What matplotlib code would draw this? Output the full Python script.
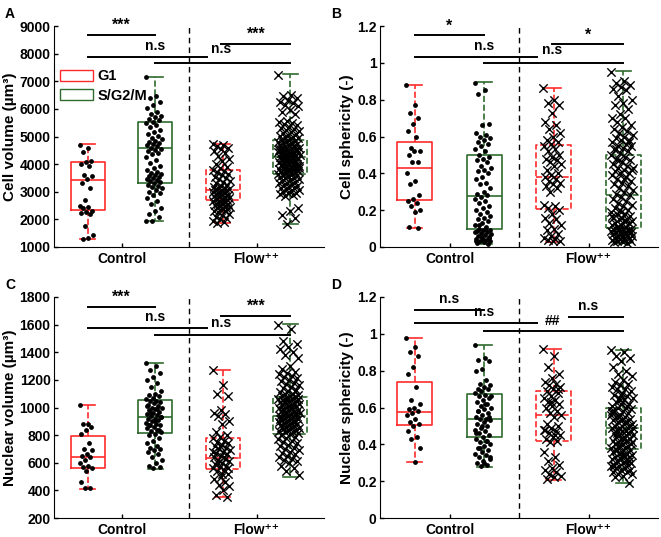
import numpy as np
import matplotlib
matplotlib.use("Agg")
import matplotlib.pyplot as plt
from matplotlib.patches import Patch

plt.rcParams["font.family"] = ["Liberation Sans", "DejaVu Sans"]
plt.rcParams["font.weight"] = "bold"

RED = "#ff2b2b"
GREEN = "#2f6b2f"

groups = ["Control", "Flow\u207a\u207a"]
legend_labels = ["G1", "S/G2/M"]
panel_letters = ["A", "B", "C", "D"]
y_labels = ["Cell volume (\u00b5m\u00b3)", "Cell sphericity (-)",
            "Nuclear volume (\u00b5m\u00b3)", "Nuclear sphericity (-)"]

# box stats per panel: [ctl G1, ctl S, flow G1, flow S] -> (whislo, q1, med, q3, whishi)
a_boxes = [(1290, 2350, 3440, 4060, 4720), (1940, 3310, 4590, 5520, 7160),
           (1870, 2690, 3080, 3770, 4720), (1820, 3630, 4260, 4890, 7260)]
b_boxes = [(0.105, 0.256, 0.431, 0.569, 0.881), (0.015, 0.100, 0.276, 0.497, 0.894),
           (0.029, 0.208, 0.381, 0.556, 0.865), (0.022, 0.105, 0.283, 0.497, 0.953)]
c_boxes = [(410, 565, 645, 791, 1021), (558, 812, 929, 1057, 1321),
           (350, 556, 638, 778, 1272), (498, 805, 938, 1074, 1602)]
d_boxes = [(0.303, 0.503, 0.577, 0.741, 0.977), (0.278, 0.441, 0.537, 0.675, 0.942),
           (0.207, 0.419, 0.557, 0.688, 0.920), (0.192, 0.374, 0.490, 0.597, 0.911)]

# scatter values
a_ctl_g1 = [4700, 4600, 4450, 4100, 4060, 4000, 3950, 3620, 3560, 3450, 3300, 3150,
            2700, 2500, 2460, 2400, 2320, 2260, 2220, 2200, 1750, 1420, 1320, 1290]
a_ctl_s = [7150, 6480, 6400, 6250, 6150, 6020, 5900, 5820, 5760, 5700, 5650, 5600,
           5540, 5480, 5420, 5350, 5250, 5150, 5080, 5020, 4960, 4900, 4850, 4800,
           4760, 4720, 4680, 4640, 4600, 4560, 4520, 4480, 4420, 4350, 4250, 4150,
           4050, 3950, 3860, 3780, 3720, 3680, 3640, 3600, 3560, 3520, 3480, 3450,
           3420, 3380, 3340, 3300, 3260, 3220, 3180, 3120, 3060, 3000, 2950, 2880,
           2780, 2680, 2550, 2420, 2300, 2200, 2100, 1950, 1940]
a_flw_g1 = [4720, 4680, 4650, 4600, 4550, 4480, 4400, 4300, 4200, 4100, 4000, 3900,
            3850, 3800, 3750, 3700, 3650, 3600, 3550, 3500, 3450, 3400, 3350, 3300,
            3250, 3200, 3180, 3150, 3120, 3100, 3080, 3050, 3020, 3000, 2980, 2950,
            2920, 2900, 2870, 2850, 2820, 2800, 2770, 2750, 2720, 2700, 2680, 2650,
            2620, 2600, 2570, 2550, 2520, 2500, 2480, 2450, 2420, 2400, 2370, 2350,
            2320, 2300, 2250, 2200, 2150, 2100, 2050, 2000, 1950, 1900, 1880]
a_flw_s = [7220, 6500, 6460, 6400, 6330, 6250, 6200, 6150, 6100, 5950, 5900, 5800,
           5550, 5520, 5480, 5450, 5400, 5360, 5320, 5280, 5250, 5200, 5170, 5130,
           5100, 5060, 5020, 5000, 4970, 4940, 4910, 4880, 4850, 4820, 4800, 4780,
           4750, 4720, 4700, 4680, 4650, 4630, 4600, 4580, 4560, 4540, 4520, 4500,
           4480, 4460, 4440, 4420, 4400, 4380, 4360, 4340, 4320, 4300, 4280, 4260,
           4240, 4220, 4200, 4180, 4160, 4140, 4120, 4100, 4080, 4060, 4040, 4020,
           4000, 3980, 3960, 3940, 3920, 3900, 3880, 3860, 3840, 3820, 3800, 3780,
           3760, 3740, 3720, 3700, 3680, 3660, 3640, 3620, 3600, 3570, 3540, 3510,
           3480, 3450, 3420, 3390, 3360, 3330, 3300, 3270, 3240, 3210, 3180, 3150,
           3120, 3090, 3060, 3030, 3000, 2970, 2940, 2910, 2880, 2850, 2400, 2300,
           2150, 2050, 1820, 4450, 4350, 4150, 3950, 3750, 4550, 4650, 4250, 3850]

b_ctl_g1 = [0.88, 0.77, 0.73, 0.70, 0.67, 0.63, 0.60, 0.54, 0.52, 0.52, 0.50, 0.46,
            0.46, 0.40, 0.36, 0.34, 0.28, 0.26, 0.25, 0.24, 0.22, 0.20, 0.19, 0.11, 0.105]
b_ctl_s = [0.89, 0.85, 0.83, 0.67, 0.66, 0.62, 0.61, 0.60, 0.59, 0.58, 0.57, 0.56,
           0.55, 0.53, 0.52, 0.50, 0.49, 0.48, 0.47, 0.46, 0.44, 0.43, 0.42, 0.41,
           0.40, 0.38, 0.37, 0.35, 0.34, 0.32, 0.30, 0.29, 0.28, 0.27, 0.26, 0.25,
           0.24, 0.22, 0.21, 0.20, 0.19, 0.18, 0.17, 0.16, 0.15, 0.14, 0.13, 0.12,
           0.11, 0.10, 0.095, 0.09, 0.085, 0.08, 0.075, 0.07, 0.065, 0.06, 0.055, 0.05,
           0.045, 0.04, 0.035, 0.03, 0.025, 0.02, 0.015, 0.06, 0.08, 0.10, 0.12, 0.05,
           0.04, 0.03]
b_flw_g1 = [0.865, 0.80, 0.78, 0.77, 0.73, 0.68, 0.66, 0.64, 0.62, 0.60, 0.58, 0.57,
            0.56, 0.55, 0.53, 0.52, 0.50, 0.49, 0.48, 0.47, 0.46, 0.45, 0.44, 0.42,
            0.40, 0.39, 0.38, 0.37, 0.36, 0.35, 0.34, 0.33, 0.32, 0.30, 0.23, 0.22,
            0.21, 0.20, 0.18, 0.16, 0.15, 0.13, 0.12, 0.10, 0.09, 0.07, 0.06, 0.05,
            0.045, 0.04, 0.035, 0.03]
b_flw_s = [0.95, 0.90, 0.89, 0.88, 0.87, 0.86, 0.85, 0.82, 0.80, 0.78, 0.77, 0.75,
           0.72, 0.70, 0.70, 0.68, 0.66, 0.65, 0.64, 0.63, 0.62, 0.61, 0.60, 0.59,
           0.58, 0.58, 0.57, 0.56, 0.55, 0.55, 0.54, 0.53, 0.52, 0.51, 0.50, 0.49,
           0.48, 0.47, 0.46, 0.45, 0.44, 0.43, 0.42, 0.42, 0.41, 0.40, 0.40, 0.39,
           0.38, 0.37, 0.36, 0.35, 0.34, 0.33, 0.32, 0.31, 0.30, 0.29, 0.28, 0.27,
           0.26, 0.25, 0.24, 0.23, 0.22, 0.21, 0.20, 0.20, 0.19, 0.18, 0.18, 0.17,
           0.16, 0.16, 0.15, 0.15, 0.14, 0.14, 0.13, 0.13, 0.12, 0.12, 0.11, 0.11,
           0.10, 0.10, 0.095, 0.09, 0.09, 0.085, 0.08, 0.08, 0.075, 0.07, 0.07, 0.065,
           0.06, 0.06, 0.055, 0.05, 0.05, 0.045, 0.04, 0.04, 0.035, 0.03, 0.03, 0.025,
           0.022, 0.47, 0.43, 0.37, 0.53, 0.57, 0.19, 0.17, 0.14, 0.11, 0.08, 0.06]

c_ctl_g1 = [1020, 880, 880, 860, 840, 810, 740, 700, 690, 660, 650, 640, 620, 600,
            580, 570, 560, 540, 460, 420, 415]
c_ctl_s = [1320, 1300, 1270, 1250, 1220, 1200, 1180, 1150, 1120, 1100, 1090, 1080,
           1070, 1060, 1050, 1045, 1040, 1030, 1020, 1010, 1000, 995, 990, 980, 970,
           960, 950, 945, 940, 930, 920, 915, 910, 900, 890, 880, 875, 870, 860, 850,
           840, 830, 820, 810, 800, 780, 760, 740, 720, 710, 700, 690, 680, 660, 640,
           620, 600, 580, 570, 560, 1010, 990, 960, 930, 900, 870, 840]
c_flw_g1 = [1270, 1160, 1100, 1080, 980, 960, 950, 940, 900, 880, 820, 800, 790, 780,
            760, 750, 740, 730, 720, 710, 700, 690, 680, 670, 660, 650, 640, 630, 620,
            610, 600, 590, 580, 570, 560, 550, 540, 520, 500, 480, 460, 440, 430, 400,
            370, 355, 720, 680, 640, 600, 560, 520]
c_flw_s = [1600, 1570, 1480, 1460, 1440, 1420, 1400, 1380, 1360, 1300, 1280, 1260,
           1250, 1240, 1230, 1220, 1210, 1200, 1190, 1180, 1170, 1160, 1150, 1140,
           1130, 1120, 1110, 1100, 1095, 1090, 1085, 1080, 1075, 1070, 1065, 1060,
           1055, 1050, 1045, 1040, 1035, 1030, 1025, 1020, 1015, 1010, 1005, 1000,
           995, 990, 985, 980, 975, 970, 965, 960, 955, 950, 945, 940, 935, 930, 925,
           920, 915, 910, 905, 900, 895, 890, 885, 880, 875, 870, 865, 860, 855, 850,
           845, 840, 835, 830, 825, 820, 815, 810, 800, 790, 780, 770, 760, 750, 740,
           730, 720, 710, 700, 690, 680, 670, 660, 650, 640, 630, 620, 610, 600, 580,
           560, 540, 510, 1000, 980, 960, 940, 920, 900, 1040, 1060, 880, 860, 1120]

d_ctl_g1 = [0.975, 0.93, 0.90, 0.88, 0.82, 0.78, 0.71, 0.64, 0.62, 0.60, 0.59, 0.58,
            0.57, 0.56, 0.54, 0.52, 0.51, 0.50, 0.47, 0.44, 0.43, 0.38, 0.305]
d_ctl_s = [0.94, 0.87, 0.86, 0.85, 0.81, 0.80, 0.75, 0.73, 0.72, 0.71, 0.70, 0.70,
           0.69, 0.68, 0.67, 0.66, 0.65, 0.64, 0.63, 0.62, 0.61, 0.60, 0.59, 0.58,
           0.57, 0.56, 0.55, 0.54, 0.54, 0.53, 0.52, 0.51, 0.50, 0.49, 0.48, 0.47,
           0.46, 0.45, 0.44, 0.43, 0.42, 0.41, 0.40, 0.39, 0.38, 0.37, 0.36, 0.35,
           0.34, 0.33, 0.32, 0.31, 0.30, 0.29, 0.28, 0.66, 0.62, 0.58, 0.55, 0.50,
           0.46, 0.42, 0.38, 0.33, 0.30]
d_flw_g1 = [0.92, 0.88, 0.82, 0.78, 0.76, 0.74, 0.73, 0.72, 0.71, 0.70, 0.69, 0.68,
            0.66, 0.65, 0.64, 0.63, 0.62, 0.61, 0.60, 0.58, 0.57, 0.56, 0.55, 0.51,
            0.50, 0.49, 0.48, 0.47, 0.46, 0.45, 0.44, 0.43, 0.42, 0.41, 0.36, 0.33,
            0.31, 0.29, 0.27, 0.26, 0.25, 0.24, 0.23, 0.22, 0.21, 0.70, 0.63, 0.48, 0.45]
d_flw_s = [0.91, 0.90, 0.88, 0.87, 0.85, 0.82, 0.80, 0.78, 0.77, 0.75, 0.74, 0.73,
           0.72, 0.71, 0.70, 0.70, 0.69, 0.68, 0.67, 0.66, 0.65, 0.65, 0.64, 0.63,
           0.62, 0.62, 0.61, 0.60, 0.60, 0.59, 0.58, 0.58, 0.57, 0.56, 0.56, 0.55,
           0.55, 0.54, 0.53, 0.53, 0.52, 0.52, 0.51, 0.51, 0.50, 0.50, 0.49, 0.49,
           0.48, 0.48, 0.47, 0.47, 0.46, 0.46, 0.45, 0.45, 0.44, 0.44, 0.43, 0.43,
           0.42, 0.42, 0.41, 0.41, 0.40, 0.40, 0.39, 0.39, 0.38, 0.38, 0.37, 0.37,
           0.36, 0.36, 0.35, 0.35, 0.34, 0.34, 0.33, 0.33, 0.32, 0.32, 0.31, 0.31,
           0.30, 0.30, 0.29, 0.29, 0.28, 0.28, 0.27, 0.27, 0.26, 0.26, 0.25, 0.25,
           0.24, 0.24, 0.23, 0.22, 0.19, 0.64, 0.58, 0.52, 0.46, 0.40, 0.34, 0.28,
           0.61, 0.55, 0.49, 0.43, 0.37, 0.31, 0.67, 0.57, 0.47, 0.39]

# significance bars: (x0, x1, y, label, label_x, label_y)
a_sig = [(0.75, 1.25, 8660, "***", 1.0, 8760), (0.75, 1.63, 7890, "n.s", 1.25, 8030),
         (1.25, 2.25, 7650, "n.s", 1.74, 7900), (1.74, 2.25, 8340, "***", 2.0, 8440)]
b_sig = [(0.75, 1.25, 1.150, "*", 1.0, 1.160), (0.75, 1.63, 1.033, "n.s", 1.25, 1.055),
         (1.25, 2.25, 0.997, "n.s", 1.74, 1.029), (1.74, 2.25, 1.100, "*", 2.0, 1.110)]
c_sig = [(0.75, 1.25, 1725, "***", 1.0, 1745), (0.75, 1.63, 1573, "n.s", 1.25, 1602),
         (1.25, 2.25, 1523, "n.s", 1.74, 1563), (1.74, 2.25, 1662, "***", 2.0, 1682)]
d_sig = [(0.75, 1.25, 1.129, "n.s", 1.0, 1.150), (0.75, 1.63, 1.057, "n.s", 1.25, 1.078),
         (1.25, 2.25, 1.013, "##", 1.74, 1.030), (1.86, 2.25, 1.093, "n.s", 2.0, 1.114)]

panels = [
    (a_boxes, [a_ctl_g1, a_ctl_s, a_flw_g1, a_flw_s], a_sig, (1000, 9000), np.arange(1000, 9001, 1000), "{:.0f}"),
    (b_boxes, [b_ctl_g1, b_ctl_s, b_flw_g1, b_flw_s], b_sig, (0, 1.2), np.arange(0, 1.21, 0.2), "{:g}"),
    (c_boxes, [c_ctl_g1, c_ctl_s, c_flw_g1, c_flw_s], c_sig, (200, 1800), np.arange(200, 1801, 200), "{:.0f}"),
    (d_boxes, [d_ctl_g1, d_ctl_s, d_flw_g1, d_flw_s], d_sig, (0, 1.2), np.arange(0, 1.21, 0.2), "{:g}"),
]

positions = [0.75, 1.25, 1.75, 2.25]
colors = [RED, GREEN, RED, GREEN]
styles = ["-", "-", "--", "--"]
jitter_w = [0.05, 0.06, 0.065, 0.08]

fig = plt.figure(figsize=(6.61, 5.37), dpi=100)
rects = [(54, 26, 270), (380, 26, 278), (54, 297, 270), (380, 297, 278)]


def jitter(n, w):
    # deterministic spread (golden-ratio sequence), no randomness
    return w * (((np.arange(n) * 0.6180339887) % 1.0) * 2 - 1)


for k, (boxes, points, sigs, ylim, yticks, fmt) in enumerate(panels):
    left, top, width = rects[k]
    ax = fig.add_axes([left / 661, 1 - (top + 221) / 537, width / 661, 221 / 537])

    for i, (lo, q1, med, q3, hi) in enumerate(boxes):
        st = [dict(whislo=lo, q1=q1, med=med, q3=q3, whishi=hi, fliers=[])]
        c = colors[i]
        ax.bxp(st, positions=[positions[i]], widths=0.25, capwidths=0.11,
               showfliers=False,
               boxprops=dict(color=c, lw=1.2, linestyle=styles[i]),
               medianprops=dict(color=c, lw=1.2, linestyle=styles[i]),
               whiskerprops=dict(color=c, lw=1.2, linestyle="--"),
               capprops=dict(color=c, lw=1.2))

    for i, vals in enumerate(points):
        vals = np.asarray(vals, dtype=float)
        xs = positions[i] - 0.01 + jitter(len(vals), jitter_w[i])
        if i < 2:
            ax.scatter(xs, vals, s=12, color="black", zorder=5, linewidths=0)
        else:
            ax.scatter(xs, vals, s=36, marker="x", color="black", zorder=5, linewidths=1.0)

    ax.axvline(1.5, color="black", lw=1.0, linestyle=(0, (4, 3)))

    for x0, x1, y, lab, lx, ly in sigs:
        ax.plot([x0, x1], [y, y], color="black", lw=1.4, clip_on=False)
        fs = 11.5 if "*" in lab else 10
        ax.text(lx, ly, lab, ha="center", va="bottom", fontsize=fs, fontweight="bold")

    ax.set_xlim(0.5, 2.5)
    ax.set_ylim(*ylim)
    ax.set_yticks(yticks)
    ax.set_yticklabels([fmt.format(v) for v in yticks])
    ax.set_xticks([1, 2])
    ax.set_xticklabels(groups)
    ax.tick_params(direction="in", length=3, width=1, labelsize=10)
    ax.tick_params(axis="y", pad=2.5)
    ax.spines["top"].set_visible(False)
    ax.spines["right"].set_visible(False)
    ax.set_ylabel(y_labels[k], fontsize=11, fontweight="bold", labelpad=2)
    ax.text(left / 661 - 49 / 661, 1 - (top - 19) / 537, panel_letters[k],
            transform=fig.transFigure, fontsize=10, fontweight="bold", va="top")

    if k == 0:
        handles = [Patch(facecolor="none", edgecolor=RED, lw=1.0),
                   Patch(facecolor="none", edgecolor=GREEN, lw=1.0)]
        ax.legend(handles, legend_labels, loc="upper left", bbox_to_anchor=(0.0, 0.83),
                  frameon=False, handlelength=2.3, handleheight=0.85,
                  labelspacing=0.35, borderaxespad=0.0, handletextpad=0.3,
                  prop=dict(weight="bold", size=10.5))

fig.savefig("out.png", dpi=100)
